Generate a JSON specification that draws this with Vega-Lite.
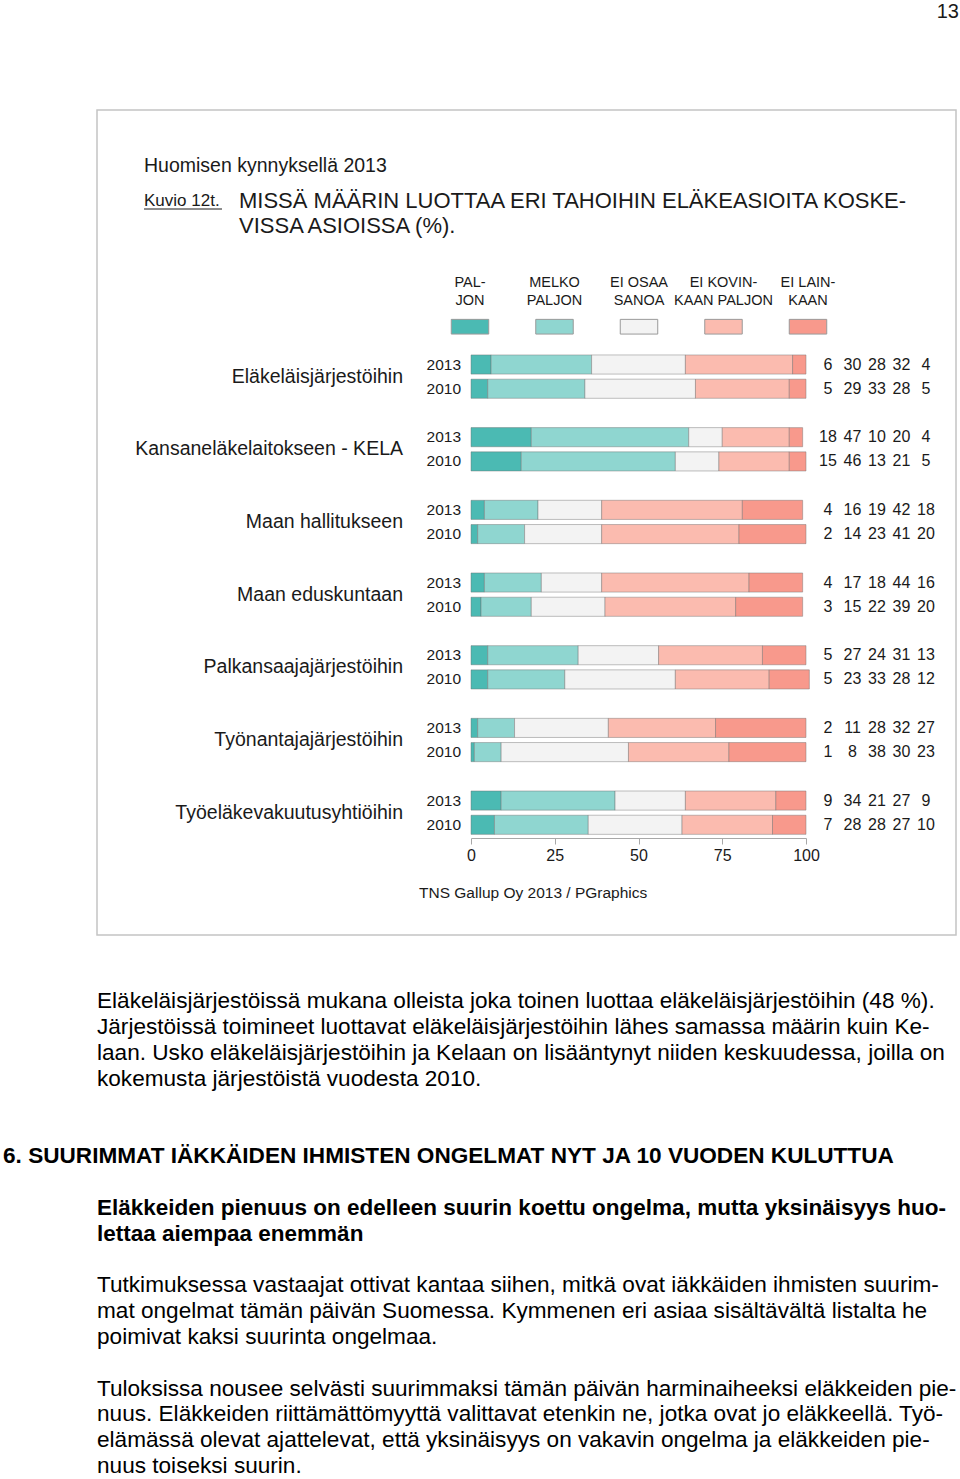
{
  "$schema": "https://vega.github.io/schema/vega-lite/v6.json",
  "width": 859,
  "height": 825,
  "autosize": {"type": "none"},
  "padding": {"left": 97, "top": 110, "right": 4, "bottom": 544},
  "background": "white",
  "config": {
    "font": "Liberation Sans",
    "view": {"stroke": "#c4c4c4", "strokeWidth": 1.5},
    "text": {"color": "#1a1a1a"}
  },
  "datasets": {
    "bars": [
      {"cat": "Eläkeläisjärjestöihin", "year": "2013", "code": 1, "seg": "PALJON", "value": 6},
      {"cat": "Eläkeläisjärjestöihin", "year": "2013", "code": 2, "seg": "MELKO PALJON", "value": 30},
      {"cat": "Eläkeläisjärjestöihin", "year": "2013", "code": 3, "seg": "EI OSAA SANOA", "value": 28},
      {"cat": "Eläkeläisjärjestöihin", "year": "2013", "code": 4, "seg": "EI KOVINKAAN PALJON", "value": 32},
      {"cat": "Eläkeläisjärjestöihin", "year": "2013", "code": 5, "seg": "EI LAINKAAN", "value": 4},
      {"cat": "Eläkeläisjärjestöihin", "year": "2010", "code": 1, "seg": "PALJON", "value": 5},
      {"cat": "Eläkeläisjärjestöihin", "year": "2010", "code": 2, "seg": "MELKO PALJON", "value": 29},
      {"cat": "Eläkeläisjärjestöihin", "year": "2010", "code": 3, "seg": "EI OSAA SANOA", "value": 33},
      {"cat": "Eläkeläisjärjestöihin", "year": "2010", "code": 4, "seg": "EI KOVINKAAN PALJON", "value": 28},
      {"cat": "Eläkeläisjärjestöihin", "year": "2010", "code": 5, "seg": "EI LAINKAAN", "value": 5},
      {"cat": "Kansaneläkelaitokseen - KELA", "year": "2013", "code": 1, "seg": "PALJON", "value": 18},
      {"cat": "Kansaneläkelaitokseen - KELA", "year": "2013", "code": 2, "seg": "MELKO PALJON", "value": 47},
      {"cat": "Kansaneläkelaitokseen - KELA", "year": "2013", "code": 3, "seg": "EI OSAA SANOA", "value": 10},
      {"cat": "Kansaneläkelaitokseen - KELA", "year": "2013", "code": 4, "seg": "EI KOVINKAAN PALJON", "value": 20},
      {"cat": "Kansaneläkelaitokseen - KELA", "year": "2013", "code": 5, "seg": "EI LAINKAAN", "value": 4},
      {"cat": "Kansaneläkelaitokseen - KELA", "year": "2010", "code": 1, "seg": "PALJON", "value": 15},
      {"cat": "Kansaneläkelaitokseen - KELA", "year": "2010", "code": 2, "seg": "MELKO PALJON", "value": 46},
      {"cat": "Kansaneläkelaitokseen - KELA", "year": "2010", "code": 3, "seg": "EI OSAA SANOA", "value": 13},
      {"cat": "Kansaneläkelaitokseen - KELA", "year": "2010", "code": 4, "seg": "EI KOVINKAAN PALJON", "value": 21},
      {"cat": "Kansaneläkelaitokseen - KELA", "year": "2010", "code": 5, "seg": "EI LAINKAAN", "value": 5},
      {"cat": "Maan hallitukseen", "year": "2013", "code": 1, "seg": "PALJON", "value": 4},
      {"cat": "Maan hallitukseen", "year": "2013", "code": 2, "seg": "MELKO PALJON", "value": 16},
      {"cat": "Maan hallitukseen", "year": "2013", "code": 3, "seg": "EI OSAA SANOA", "value": 19},
      {"cat": "Maan hallitukseen", "year": "2013", "code": 4, "seg": "EI KOVINKAAN PALJON", "value": 42},
      {"cat": "Maan hallitukseen", "year": "2013", "code": 5, "seg": "EI LAINKAAN", "value": 18},
      {"cat": "Maan hallitukseen", "year": "2010", "code": 1, "seg": "PALJON", "value": 2},
      {"cat": "Maan hallitukseen", "year": "2010", "code": 2, "seg": "MELKO PALJON", "value": 14},
      {"cat": "Maan hallitukseen", "year": "2010", "code": 3, "seg": "EI OSAA SANOA", "value": 23},
      {"cat": "Maan hallitukseen", "year": "2010", "code": 4, "seg": "EI KOVINKAAN PALJON", "value": 41},
      {"cat": "Maan hallitukseen", "year": "2010", "code": 5, "seg": "EI LAINKAAN", "value": 20},
      {"cat": "Maan eduskuntaan", "year": "2013", "code": 1, "seg": "PALJON", "value": 4},
      {"cat": "Maan eduskuntaan", "year": "2013", "code": 2, "seg": "MELKO PALJON", "value": 17},
      {"cat": "Maan eduskuntaan", "year": "2013", "code": 3, "seg": "EI OSAA SANOA", "value": 18},
      {"cat": "Maan eduskuntaan", "year": "2013", "code": 4, "seg": "EI KOVINKAAN PALJON", "value": 44},
      {"cat": "Maan eduskuntaan", "year": "2013", "code": 5, "seg": "EI LAINKAAN", "value": 16},
      {"cat": "Maan eduskuntaan", "year": "2010", "code": 1, "seg": "PALJON", "value": 3},
      {"cat": "Maan eduskuntaan", "year": "2010", "code": 2, "seg": "MELKO PALJON", "value": 15},
      {"cat": "Maan eduskuntaan", "year": "2010", "code": 3, "seg": "EI OSAA SANOA", "value": 22},
      {"cat": "Maan eduskuntaan", "year": "2010", "code": 4, "seg": "EI KOVINKAAN PALJON", "value": 39},
      {"cat": "Maan eduskuntaan", "year": "2010", "code": 5, "seg": "EI LAINKAAN", "value": 20},
      {"cat": "Palkansaajajärjestöihin", "year": "2013", "code": 1, "seg": "PALJON", "value": 5},
      {"cat": "Palkansaajajärjestöihin", "year": "2013", "code": 2, "seg": "MELKO PALJON", "value": 27},
      {"cat": "Palkansaajajärjestöihin", "year": "2013", "code": 3, "seg": "EI OSAA SANOA", "value": 24},
      {"cat": "Palkansaajajärjestöihin", "year": "2013", "code": 4, "seg": "EI KOVINKAAN PALJON", "value": 31},
      {"cat": "Palkansaajajärjestöihin", "year": "2013", "code": 5, "seg": "EI LAINKAAN", "value": 13},
      {"cat": "Palkansaajajärjestöihin", "year": "2010", "code": 1, "seg": "PALJON", "value": 5},
      {"cat": "Palkansaajajärjestöihin", "year": "2010", "code": 2, "seg": "MELKO PALJON", "value": 23},
      {"cat": "Palkansaajajärjestöihin", "year": "2010", "code": 3, "seg": "EI OSAA SANOA", "value": 33},
      {"cat": "Palkansaajajärjestöihin", "year": "2010", "code": 4, "seg": "EI KOVINKAAN PALJON", "value": 28},
      {"cat": "Palkansaajajärjestöihin", "year": "2010", "code": 5, "seg": "EI LAINKAAN", "value": 12},
      {"cat": "Työnantajajärjestöihin", "year": "2013", "code": 1, "seg": "PALJON", "value": 2},
      {"cat": "Työnantajajärjestöihin", "year": "2013", "code": 2, "seg": "MELKO PALJON", "value": 11},
      {"cat": "Työnantajajärjestöihin", "year": "2013", "code": 3, "seg": "EI OSAA SANOA", "value": 28},
      {"cat": "Työnantajajärjestöihin", "year": "2013", "code": 4, "seg": "EI KOVINKAAN PALJON", "value": 32},
      {"cat": "Työnantajajärjestöihin", "year": "2013", "code": 5, "seg": "EI LAINKAAN", "value": 27},
      {"cat": "Työnantajajärjestöihin", "year": "2010", "code": 1, "seg": "PALJON", "value": 1},
      {"cat": "Työnantajajärjestöihin", "year": "2010", "code": 2, "seg": "MELKO PALJON", "value": 8},
      {"cat": "Työnantajajärjestöihin", "year": "2010", "code": 3, "seg": "EI OSAA SANOA", "value": 38},
      {"cat": "Työnantajajärjestöihin", "year": "2010", "code": 4, "seg": "EI KOVINKAAN PALJON", "value": 30},
      {"cat": "Työnantajajärjestöihin", "year": "2010", "code": 5, "seg": "EI LAINKAAN", "value": 23},
      {"cat": "Työeläkevakuutusyhtiöihin", "year": "2013", "code": 1, "seg": "PALJON", "value": 9},
      {"cat": "Työeläkevakuutusyhtiöihin", "year": "2013", "code": 2, "seg": "MELKO PALJON", "value": 34},
      {"cat": "Työeläkevakuutusyhtiöihin", "year": "2013", "code": 3, "seg": "EI OSAA SANOA", "value": 21},
      {"cat": "Työeläkevakuutusyhtiöihin", "year": "2013", "code": 4, "seg": "EI KOVINKAAN PALJON", "value": 27},
      {"cat": "Työeläkevakuutusyhtiöihin", "year": "2013", "code": 5, "seg": "EI LAINKAAN", "value": 9},
      {"cat": "Työeläkevakuutusyhtiöihin", "year": "2010", "code": 1, "seg": "PALJON", "value": 7},
      {"cat": "Työeläkevakuutusyhtiöihin", "year": "2010", "code": 2, "seg": "MELKO PALJON", "value": 28},
      {"cat": "Työeläkevakuutusyhtiöihin", "year": "2010", "code": 3, "seg": "EI OSAA SANOA", "value": 28},
      {"cat": "Työeläkevakuutusyhtiöihin", "year": "2010", "code": 4, "seg": "EI KOVINKAAN PALJON", "value": 27},
      {"cat": "Työeläkevakuutusyhtiöihin", "year": "2010", "code": 5, "seg": "EI LAINKAAN", "value": 10}
    ],
    "legend": [
      {"seg": "PALJON", "label": "PAL-\nJON"},
      {"seg": "MELKO PALJON", "label": "MELKO\nPALJON"},
      {"seg": "EI OSAA SANOA", "label": "EI OSAA\nSANOA"},
      {"seg": "EI KOVINKAAN PALJON", "label": "EI KOVIN-\nKAAN PALJON"},
      {"seg": "EI LAINKAAN", "label": "EI LAIN-\nKAAN"}
    ],
    "body": [
      {"line": "p1a", "text": "Eläkeläisjärjestöissä mukana olleista joka toinen luottaa eläkeläisjärjestöihin (48 %)."},
      {"line": "p1b", "text": "Järjestöissä toimineet luottavat eläkeläisjärjestöihin lähes samassa määrin kuin Ke-"},
      {"line": "p1c", "text": "laan. Usko eläkeläisjärjestöihin ja Kelaan on lisääntynyt niiden keskuudessa, joilla on"},
      {"line": "p1d", "text": "kokemusta järjestöistä vuodesta 2010."},
      {"line": "p2a", "text": "Tutkimuksessa vastaajat ottivat kantaa siihen, mitkä ovat iäkkäiden ihmisten suurim-"},
      {"line": "p2b", "text": "mat ongelmat tämän päivän Suomessa. Kymmenen eri asiaa sisältävältä listalta he"},
      {"line": "p2c", "text": "poimivat kaksi suurinta ongelmaa."},
      {"line": "p3a", "text": "Tuloksissa nousee selvästi suurimmaksi tämän päivän harminaiheeksi eläkkeiden pie-"},
      {"line": "p3b", "text": "nuus. Eläkkeiden riittämättömyyttä valittavat etenkin ne, jotka ovat jo eläkkeellä. Työ-"},
      {"line": "p3c", "text": "elämässä olevat ajattelevat, että yksinäisyys on vakavin ongelma ja eläkkeiden pie-"},
      {"line": "p3d", "text": "nuus toiseksi suurin."}
    ],
    "heading": [
      {"line": "h1", "text": "6. SUURIMMAT IÄKKÄIDEN IHMISTEN ONGELMAT NYT JA 10 VUODEN KULUTTUA"}
    ],
    "subheading": [
      {"line": "h2a", "text": "Eläkkeiden pienuus on edelleen suurin koettu ongelma, mutta yksinäisyys huo-"},
      {"line": "h2b", "text": "lettaa aiempaa enemmän"}
    ]
  },
  "layer": [
    {
      "data": {"name": "bars"},
      "mark": {"type": "bar", "stroke": "#6f6f6f", "strokeWidth": 0.8, "strokeOpacity": 0.55},
      "encoding": {
        "y": {"field": "cat", "type": "nominal", "scale": {"type": "band", "domain": ["Eläkeläisjärjestöihin", "Kansaneläkelaitokseen - KELA", "Maan hallitukseen", "Maan eduskuntaan", "Palkansaajajärjestöihin", "Työnantajajärjestöihin", "Työeläkevakuutusyhtiöihin"], "range": [242.4, 726.9], "paddingInner": 0.3333, "paddingOuter": 0}, "axis": null},
        "yOffset": {"field": "year", "type": "nominal", "scale": {"type": "band", "domain": ["2013", "2010"], "paddingInner": 0.21, "paddingOuter": 0.105}},
        "x": {"field": "value", "type": "quantitative", "stack": "zero", "scale": {"domain": [0, 100], "range": [374, 709], "nice": false, "zero": false},
          "axis": {"values": [0, 25, 50, 75, 100], "offset": -97, "title": null, "grid": false, "domainColor": "#a8a8a8", "tickColor": "#a8a8a8", "tickSize": 6, "labelFontSize": 16, "labelColor": "#1a1a1a", "labelPadding": 3, "labelFont": "Liberation Sans", "labelFlush": false, "labelOverlap": false}},
        "order": {"field": "code", "type": "quantitative", "sort": "ascending"},
        "color": {"field": "seg", "type": "nominal", "sort": ["PALJON", "MELKO PALJON", "EI OSAA SANOA", "EI KOVINKAAN PALJON", "EI LAINKAAN"], "scale": {"domain": ["PALJON", "MELKO PALJON", "EI OSAA SANOA", "EI KOVINKAAN PALJON", "EI LAINKAAN"], "range": ["#4bbab3", "#8fd6d0", "#f3f3f3", "#fbbbaf", "#f8998c"]}, "legend": null}
      }
    },
    {
      "data": {"name": "bars"},
      "transform": [{"filter": "datum.code === 1"}],
      "mark": {"type": "text", "align": "right", "baseline": "middle", "fontSize": 15.5},
      "encoding": {
        "y": {"field": "cat", "type": "nominal", "scale": {"type": "band", "domain": ["Eläkeläisjärjestöihin", "Kansaneläkelaitokseen - KELA", "Maan hallitukseen", "Maan eduskuntaan", "Palkansaajajärjestöihin", "Työnantajajärjestöihin", "Työeläkevakuutusyhtiöihin"], "range": [242.4, 726.9], "paddingInner": 0.3333, "paddingOuter": 0}, "axis": null},
        "yOffset": {"field": "year", "type": "nominal", "scale": {"type": "band", "domain": ["2013", "2010"], "paddingInner": 0.21, "paddingOuter": 0.105}},
        "x": {"datum": -2.985, "type": "quantitative", "scale": {"domain": [0, 100], "range": [374, 709], "nice": false, "zero": false}, "axis": null},
        "text": {"field": "year"}
      }
    },
    {
      "data": {"name": "bars"},
      "transform": [{"filter": "datum.code === 1 && datum.year === '2013'"}],
      "mark": {"type": "text", "align": "right", "baseline": "middle", "fontSize": 19.5},
      "encoding": {
        "y": {"field": "cat", "type": "nominal", "scale": {"type": "band", "domain": ["Eläkeläisjärjestöihin", "Kansaneläkelaitokseen - KELA", "Maan hallitukseen", "Maan eduskuntaan", "Palkansaajajärjestöihin", "Työnantajajärjestöihin", "Työeläkevakuutusyhtiöihin"], "range": [242.4, 726.9], "paddingInner": 0.3333, "paddingOuter": 0}, "axis": null},
        "x": {"datum": -20.3, "type": "quantitative", "scale": {"domain": [0, 100], "range": [374, 709], "nice": false, "zero": false}, "axis": null},
        "text": {"field": "cat"}
      }
    },
    {
      "data": {"name": "bars"},
      "mark": {"type": "text", "align": "center", "baseline": "middle", "fontSize": 16},
      "encoding": {
        "y": {"field": "cat", "type": "nominal", "scale": {"type": "band", "domain": ["Eläkeläisjärjestöihin", "Kansaneläkelaitokseen - KELA", "Maan hallitukseen", "Maan eduskuntaan", "Palkansaajajärjestöihin", "Työnantajajärjestöihin", "Työeläkevakuutusyhtiöihin"], "range": [242.4, 726.9], "paddingInner": 0.3333, "paddingOuter": 0}, "axis": null},
        "yOffset": {"field": "year", "type": "nominal", "scale": {"type": "band", "domain": ["2013", "2010"], "paddingInner": 0.21, "paddingOuter": 0.105}},
        "x": {"field": "seg", "type": "nominal", "scale": {"type": "point", "domain": ["PALJON", "MELKO PALJON", "EI OSAA SANOA", "EI KOVINKAAN PALJON", "EI LAINKAAN"], "range": [731, 829], "padding": 0}, "axis": null},
        "text": {"field": "value"}
      }
    },
    {
      "data": {"name": "legend"},
      "mark": {"type": "text", "align": "center", "baseline": "middle", "fontSize": 14.5, "lineBreak": "\n", "lineHeight": 18},
      "encoding": {
        "x": {"field": "seg", "type": "nominal", "scale": {"type": "point", "domain": ["PALJON", "MELKO PALJON", "EI OSAA SANOA", "EI KOVINKAAN PALJON", "EI LAINKAAN"], "range": [373, 711], "padding": 0}, "axis": null},
        "y": {"datum": -3.365, "type": "quantitative", "scale": {"domain": [0, 19], "range": [254.5, 714.7], "nice": false, "zero": false}, "axis": null},
        "text": {"field": "label"}
      }
    },
    {
      "data": {"name": "legend"},
      "mark": {"type": "point", "shape": "M-1,-0.392H1V0.392H-1Z", "filled": true, "size": 1406, "opacity": 1, "stroke": "#9a9a9a", "strokeWidth": 1},
      "encoding": {
        "x": {"field": "seg", "type": "nominal", "scale": {"type": "point", "domain": ["PALJON", "MELKO PALJON", "EI OSAA SANOA", "EI KOVINKAAN PALJON", "EI LAINKAAN"], "range": [373, 711], "padding": 0}, "axis": null},
        "y": {"datum": -1.56, "type": "quantitative", "scale": {"domain": [0, 19], "range": [254.5, 714.7], "nice": false, "zero": false}, "axis": null},
        "color": {"field": "seg", "type": "nominal", "sort": ["PALJON", "MELKO PALJON", "EI OSAA SANOA", "EI KOVINKAAN PALJON", "EI LAINKAAN"], "scale": {"domain": ["PALJON", "MELKO PALJON", "EI OSAA SANOA", "EI KOVINKAAN PALJON", "EI LAINKAAN"], "range": ["#4bbab3", "#8fd6d0", "#f3f3f3", "#fbbbaf", "#f8998c"]}, "legend": null}
      }
    },
    {
      "data": {"values": [{"text": "13"}]},
      "mark": {"type": "text", "align": "right", "baseline": "middle", "fontSize": 20},
      "encoding": {
        "x": {"datum": 145.67, "type": "quantitative", "scale": {"domain": [0, 100], "range": [374, 709], "nice": false, "zero": false}, "axis": null},
        "y": {"datum": -14.55, "type": "quantitative", "scale": {"domain": [0, 19], "range": [254.5, 714.7], "nice": false, "zero": false}, "axis": null},
        "text": {"field": "text"}
      }
    },
    {
      "data": {"values": [{"text": "Huomisen kynnyksellä 2013"}]},
      "mark": {"type": "text", "align": "left", "baseline": "middle", "fontSize": 19.5},
      "encoding": {
        "x": {"datum": -97.61, "type": "quantitative", "scale": {"domain": [0, 100], "range": [374, 709], "nice": false, "zero": false}, "axis": null},
        "y": {"datum": -8.196, "type": "quantitative", "scale": {"domain": [0, 19], "range": [254.5, 714.7], "nice": false, "zero": false}, "axis": null},
        "text": {"field": "text"}
      }
    },
    {
      "data": {"values": [{"text": "Kuvio 12t."}]},
      "mark": {"type": "text", "align": "left", "baseline": "middle", "fontSize": 17},
      "encoding": {
        "x": {"datum": -97.61, "type": "quantitative", "scale": {"domain": [0, 100], "range": [374, 709], "nice": false, "zero": false}, "axis": null},
        "y": {"datum": -6.75, "type": "quantitative", "scale": {"domain": [0, 19], "range": [254.5, 714.7], "nice": false, "zero": false}, "axis": null},
        "text": {"field": "text"}
      }
    },
    {
      "data": {"values": [{"from": -97.61, "to": -74.33}]},
      "mark": {"type": "rule", "color": "#1a1a1a", "strokeWidth": 1},
      "encoding": {
        "x": {"field": "from", "type": "quantitative", "scale": {"domain": [0, 100], "range": [374, 709], "nice": false, "zero": false}, "axis": null},
        "x2": {"field": "to"},
        "y": {"datum": -6.42, "type": "quantitative", "scale": {"domain": [0, 19], "range": [254.5, 714.7], "nice": false, "zero": false}, "axis": null}
      }
    },
    {
      "data": {"values": [{"text": "MISSÄ MÄÄRIN LUOTTAA ERI TAHOIHIN ELÄKEASIOITA KOSKE-\nVISSA ASIOISSA (%)."}]},
      "mark": {"type": "text", "align": "left", "baseline": "alphabetic", "fontSize": 22, "lineBreak": "\n", "lineHeight": 25},
      "encoding": {
        "x": {"datum": -69.25, "type": "quantitative", "scale": {"domain": [0, 100], "range": [374, 709], "nice": false, "zero": false}, "axis": null},
        "y": {"datum": -6.466, "type": "quantitative", "scale": {"domain": [0, 19], "range": [254.5, 714.7], "nice": false, "zero": false}, "axis": null},
        "text": {"field": "text"}
      }
    },
    {
      "data": {"values": [{"text": "TNS Gallup Oy 2013 / PGraphics"}]},
      "mark": {"type": "text", "align": "left", "baseline": "middle", "fontSize": 15.5},
      "encoding": {
        "x": {"datum": -15.52, "type": "quantitative", "scale": {"domain": [0, 100], "range": [374, 709], "nice": false, "zero": false}, "axis": null},
        "y": {"datum": 21.82, "type": "quantitative", "scale": {"domain": [0, 19], "range": [254.5, 714.7], "nice": false, "zero": false}, "axis": null},
        "text": {"field": "text"}
      }
    },
    {
      "data": {"name": "body"},
      "mark": {"type": "text", "align": "left", "baseline": "middle", "fontSize": 22.6, "color": "#000000"},
      "encoding": {
        "x": {"datum": -111.64, "type": "quantitative", "scale": {"domain": [0, 100], "range": [374, 709], "nice": false, "zero": false}, "axis": null},
        "y": {"field": "line", "type": "nominal", "scale": {"type": "point", "domain": ["p1a", "p1b", "p1c", "p1d", "g1", "g2", "h1", "g3", "h2a", "h2b", "g4", "p2a", "p2b", "p2c", "g5", "p3a", "p3b", "p3c", "p3d"], "range": [891, 1356], "padding": 0}, "axis": null},
        "text": {"field": "text"}
      }
    },
    {
      "data": {"name": "heading"},
      "mark": {"type": "text", "align": "left", "baseline": "middle", "fontSize": 22.6, "fontWeight": "bold", "color": "#000000"},
      "encoding": {
        "x": {"datum": -139.7, "type": "quantitative", "scale": {"domain": [0, 100], "range": [374, 709], "nice": false, "zero": false}, "axis": null},
        "y": {"field": "line", "type": "nominal", "scale": {"type": "point", "domain": ["p1a", "p1b", "p1c", "p1d", "g1", "g2", "h1", "g3", "h2a", "h2b", "g4", "p2a", "p2b", "p2c", "g5", "p3a", "p3b", "p3c", "p3d"], "range": [891, 1356], "padding": 0}, "axis": null},
        "text": {"field": "text"}
      }
    },
    {
      "data": {"name": "subheading"},
      "mark": {"type": "text", "align": "left", "baseline": "middle", "fontSize": 22.5, "fontWeight": "bold", "color": "#000000"},
      "encoding": {
        "x": {"datum": -111.64, "type": "quantitative", "scale": {"domain": [0, 100], "range": [374, 709], "nice": false, "zero": false}, "axis": null},
        "y": {"field": "line", "type": "nominal", "scale": {"type": "point", "domain": ["p1a", "p1b", "p1c", "p1d", "g1", "g2", "h1", "g3", "h2a", "h2b", "g4", "p2a", "p2b", "p2c", "g5", "p3a", "p3b", "p3c", "p3d"], "range": [891, 1356], "padding": 0}, "axis": null},
        "text": {"field": "text"}
      }
    }
  ],
  "resolve": {"scale": {"x": "independent", "y": "independent"}}
}
